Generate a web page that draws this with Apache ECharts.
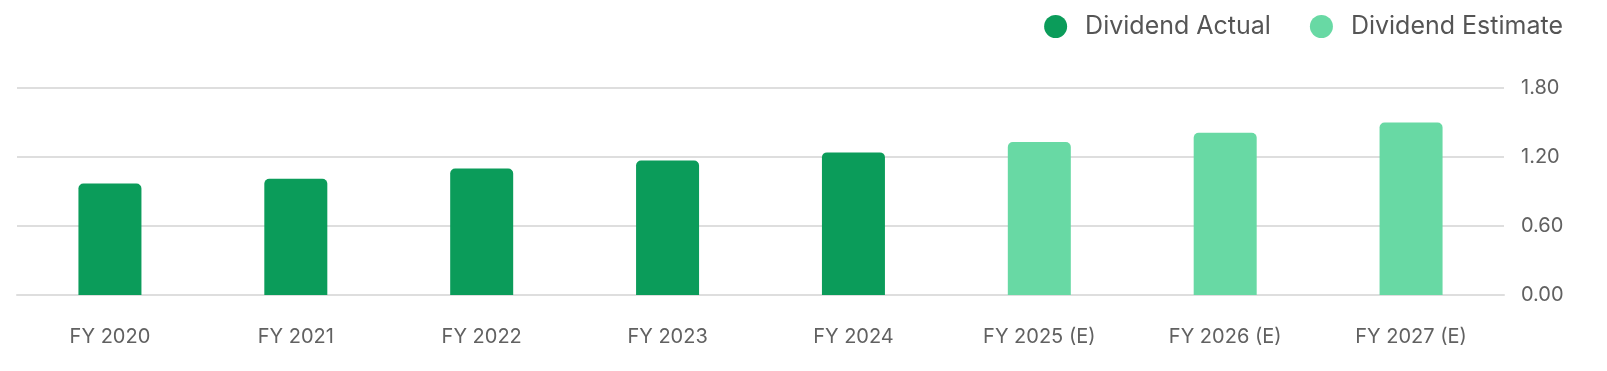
<!DOCTYPE html>
<html>
<head>
<meta charset="utf-8">
<script src="https://cdn.jsdelivr.net/npm/echarts@6/dist/echarts.min.js"></script>
<style>
html,body{margin:0;padding:0;background:#fff;}
#chart{width:1607px;height:371px;}
</style>
</head>
<body>
<div id="chart"></div>
<script>
const categories = ["FY 2020","FY 2021","FY 2022","FY 2023","FY 2024","FY 2025 (E)","FY 2026 (E)","FY 2027 (E)"];
const dividendActual = [0.97, 1.01, 1.10, 1.17, 1.24, null, null, null];
const dividendEstimate = [null, null, null, null, null, 1.33, 1.41, 1.50];
const yTicks = { min: 0, max: 1.8, interval: 0.6 };

const FONT = "Inter, 'Noto Sans', sans-serif";
const chart = echarts.init(document.getElementById('chart'), null, {renderer: 'canvas'});
chart.setOption({
  animation: false,
  backgroundColor: '#ffffff',
  legend: {
    right: 39,
    top: 9,
    itemWidth: 23,
    itemHeight: 23,
    itemGap: 39,
    icon: 'circle',
    textStyle: { fontFamily: FONT, fontSize: 25, color: '#555555', padding: [0,0,0,13] },
    data: ['Dividend Actual', 'Dividend Estimate']
  },
  grid: { left: 17, right: 103, top: 88, bottom: 76, containLabel: false },
  xAxis: {
    type: 'category',
    data: categories,
    axisLine: { show: true, lineStyle: { color: '#dedede', width: 2 } },
    axisTick: { show: false },
    axisLabel: { fontFamily: FONT, fontSize: 20, color: '#616161', margin: 32 }
  },
  yAxis: {
    type: 'value',
    position: 'right',
    min: yTicks.min, max: yTicks.max, interval: yTicks.interval,
    axisLine: { show: false },
    axisTick: { show: false },
    splitLine: { lineStyle: { color: '#dedede', width: 2 } },
    axisLabel: { fontFamily: FONT, fontSize: 20, color: '#616161', margin: 17,
      formatter: v => v.toFixed(2) }
  },
  series: [
    { name: 'Dividend Actual', type: 'bar', data: dividendActual, barWidth: 63, barGap: '-100%',
      itemStyle: { color: '#0B9C5A', borderRadius: [5,5,0,0] } },
    { name: 'Dividend Estimate', type: 'bar', data: dividendEstimate, barWidth: 63, barGap: '-100%',
      itemStyle: { color: '#68D9A4', borderRadius: [5,5,0,0] } }
  ]
});
</script>
</body>
</html>
